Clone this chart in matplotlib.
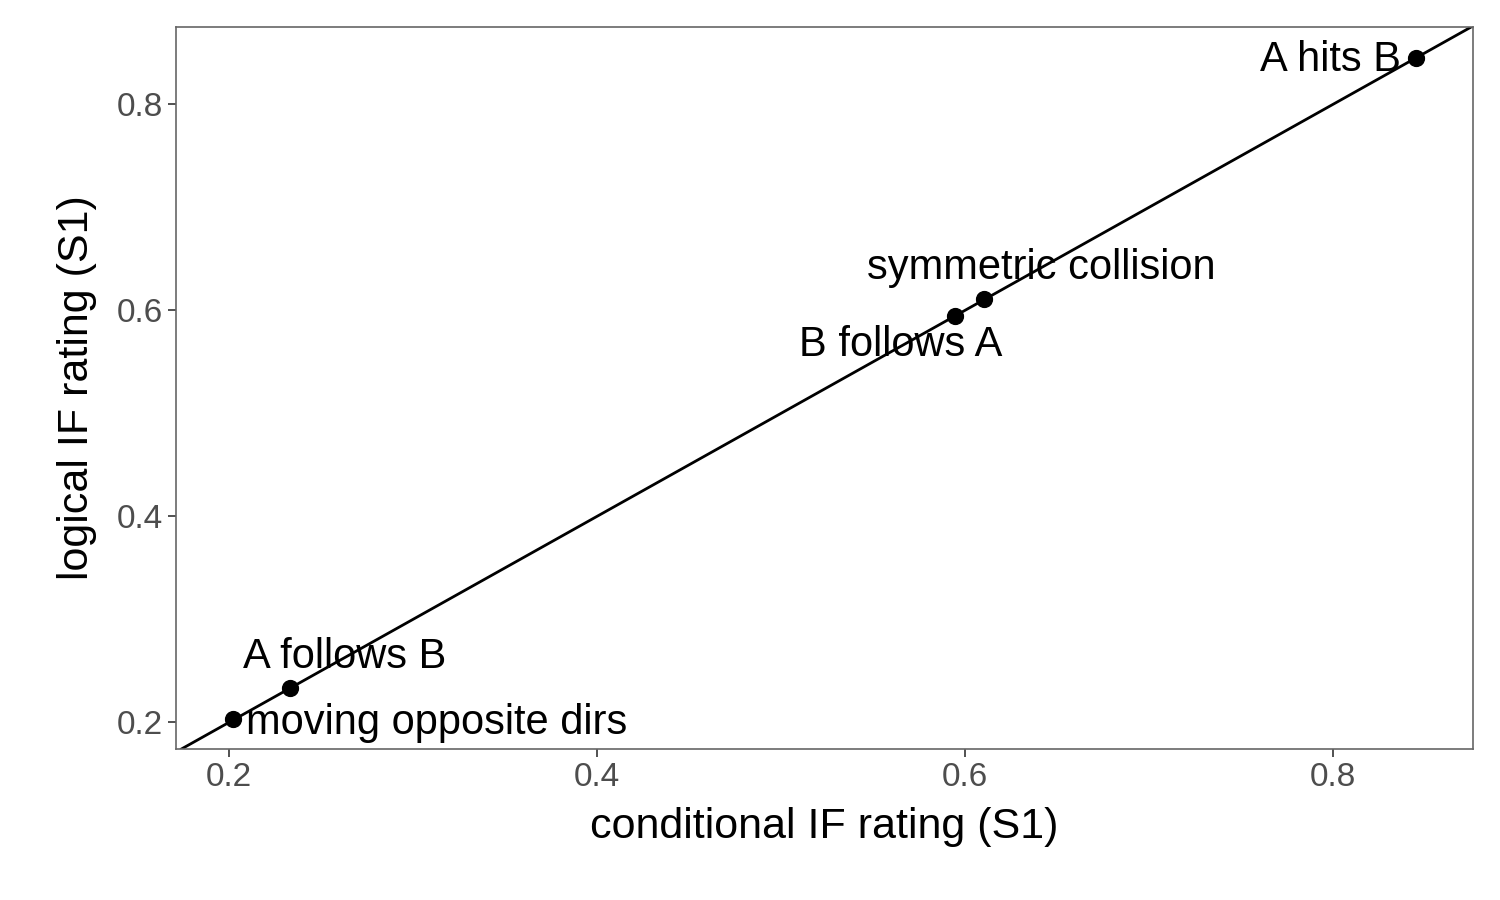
import matplotlib.pyplot as plt

plt.rcParams['font.family'] = ['Liberation Sans', 'DejaVu Sans']

labels = ['moving opposite dirs', 'A follows B', 'B follows A', 'symmetric collision', 'A hits B']
conditional = [0.2022, 0.233, 0.5946, 0.610, 0.845]
logical = [0.2029, 0.233, 0.594, 0.611, 0.845]

# label placement (data coords) and alignment
label_pos = [(0.209, 0.199, 'left'), (0.2625, 0.263, 'center'), (0.565, 0.566, 'center'),
             (0.6415, 0.641, 'center'), (0.837, 0.843, 'right')]

fig = plt.figure(figsize=(15, 9), dpi=100)
ax = fig.add_axes([0.1173, 0.1678, 0.8647, 0.8022])

ax.axline((0, 0), slope=1, color='black', lw=2, zorder=1)
ax.scatter(conditional, logical, s=130, color='black', zorder=2)
for (x, y, ha), lab in zip(label_pos, labels):
    ax.text(x, y, lab, fontsize=30, ha=ha, va='center')

ax.set_xlim(0.171, 0.876)
ax.set_ylim(0.174, 0.875)
ax.set_xticks([0.2, 0.4, 0.6, 0.8])
ax.set_yticks([0.2, 0.4, 0.6, 0.8])
ax.set_xticklabels(['0.2', '0.4', '0.6', '0.8'])
ax.set_yticklabels(['0.2', '0.4', '0.6', '0.8'])
ax.tick_params(labelsize=24, labelcolor='#4d4d4d', color='#333333', length=6, width=1.2)
for s in ax.spines.values():
    s.set_color('#666666')
    s.set_linewidth(1.2)
ax.set_xlabel('conditional IF rating (S1)', fontsize=31, labelpad=10)
ax.set_ylabel('logical IF rating (S1)', fontsize=31, labelpad=14)

fig.savefig('out.png')
